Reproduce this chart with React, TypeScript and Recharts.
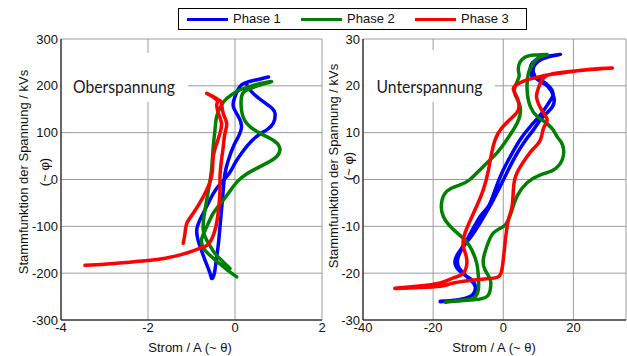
import React from 'react';
import { LineChart, Line, XAxis, YAxis, CartesianGrid } from 'recharts';

type P = [number, number];

const seriesNames = ['Phase 1', 'Phase 2', 'Phase 3'];
const seriesColors = ['#0000ff', '#008000', '#ff0000'];

const osXTicks = [-4, -2, 0, 2];
const osYTicks = [-300, -200, -100, 0, 100, 200, 300];
const usXTicks = [-40, -20, 0, 20];
const usYTicks = [-30, -20, -10, 0, 10, 20, 30];

const osPhase1: P[] = [
  [0.77, 219], [0.45, 212], [0.15, 202], [0.0, 177], [-0.04, 156], [0.08, 134], [0.15, 113], [0.08, 92],
  [-0.04, 70], [-0.15, 42], [-0.23, 13], [-0.27, -22], [-0.31, -65], [-0.345, -101], [-0.38, -136],
  [-0.42, -165], [-0.46, -193], [-0.5, -208], [-0.54, -211], [-0.575, -200], [-0.69, -172], [-0.8, -144],
  [-0.88, -108], [-0.73, -72], [-0.5, -30], [-0.3, -5], [-0.12, 15], [0.0, 35], [0.15, 56], [0.3, 74],
  [0.5, 92], [0.73, 106], [0.88, 120], [0.92, 141], [0.8, 156], [0.5, 177], [0.345, 191], [0.28, 201],
];

const osPhase2: P[] = [
  [-0.115, -190], [-0.27, -176], [-0.46, -158], [-0.61, -136], [-0.73, -108], [-0.69, -65], [-0.61, -22],
  [-0.54, 20], [-0.5, 70], [-0.46, 106], [-0.42, 135], [-0.31, 159], [-0.19, 173], [0.04, 188], [0.42, 201],
  [0.84, 209], [0.55, 201], [0.25, 190], [0.15, 177], [0.15, 148], [0.27, 120], [0.57, 99], [0.88, 84],
  [1.03, 67], [0.96, 49], [0.73, 35], [0.42, 20], [0.15, 4], [-0.04, -15], [-0.27, -44], [-0.5, -72],
  [-0.65, -101], [-0.77, -129], [-0.69, -151], [-0.5, -168], [-0.27, -186], [-0.08, -200], [0.04, -208],
];

const osPhase3: P[] = [
  [-3.45, -183], [-3.0, -181], [-2.5, -177], [-2.0, -173], [-1.6, -168], [-1.26, -161], [-0.95, -152],
  [-0.75, -145], [-0.6, -137], [-0.46, -108], [-0.38, -65], [-0.345, -22], [-0.345, 6], [-0.31, 42],
  [-0.27, 70], [-0.23, 99], [-0.19, 120], [-0.27, 141], [-0.31, 163], [-0.345, 168], [-0.5, 177],
  [-0.65, 184], [-0.5, 176], [-0.4, 166], [-0.42, 160], [-0.38, 141], [-0.31, 120], [-0.345, 99],
  [-0.42, 77], [-0.5, 49], [-0.54, 6], [-0.73, -37], [-0.96, -72], [-1.11, -94], [-1.15, -115], [-1.19, -136],
];

const usPhase1: P[] = [
  [-18, -26], [-13.3, -25.7], [-9.5, -25], [-8, -23.5], [-8.5, -21.8], [-10.4, -20.7], [-12.8, -19.3],
  [-13.8, -17.5], [-12.8, -15.7], [-10.4, -12.9], [-6.6, -7.9], [-4.2, -5.7], [-2.3, -2.2], [-0.4, 1.4],
  [2, 4.9], [4.8, 8.5], [7.7, 11.3], [11, 14.2], [12.9, 16.3], [14.2, 18], [13.4, 19.6], [10.6, 21.3],
  [8.3, 22], [7.7, 23.5], [8.4, 25], [10.6, 26], [13, 26.4], [16.3, 26.7], [13, 26.2], [10.8, 25.6],
  [9, 24.5], [8.6, 22.8], [10, 21.2], [12.5, 20], [14.4, 17.6], [13.9, 15.4], [11, 13.1], [8.6, 10.6],
  [5.8, 7.8], [2.9, 4.2], [1, 1.4], [-0.9, -1.5], [-3.3, -5], [-6, -8.5], [-9, -12], [-11.5, -14.5],
  [-13, -17], [-12.5, -19], [-10, -21], [-8.2, -22.5], [-8.3, -24.3], [-11, -25.4], [-15, -25.9], [-18, -26.1],
];

const usPhase2: P[] = [
  [-16.5, -26.2], [-14.2, -26], [-8.5, -25.7], [-4.7, -25], [-3.7, -23.5], [-3.7, -21.4], [-5.2, -19.3],
  [-5.7, -17.1], [-4.7, -14.3], [-2.8, -11.4], [0.1, -10], [1.5, -8.5], [2.5, -6.5], [3.9, -3.6],
  [6.8, -0.7], [10.6, 1], [14.4, 2.1], [16.8, 4.2], [17.2, 6.4], [16.5, 8], [15.3, 9.2], [14, 10.8],
  [11.5, 12.5], [9.6, 13.5], [7.7, 15.6], [6.8, 19.2], [7.2, 22.8], [8.6, 24.9], [10.5, 26.2], [12.5, 26.7],
  [9.5, 26.6], [7.7, 26.5], [5.3, 25.6], [4.3, 23.5], [4.5, 22], [3.4, 19.9], [3.4, 18.1], [4.8, 15.6],
  [4.5, 13], [3.2, 11], [1, 8.5], [-1.8, 5.7], [-5.7, 2.8], [-9.5, 0], [-12.5, -1.2], [-16.1, -2.5],
  [-17.6, -5], [-17.1, -7.9], [-14.2, -10.7], [-10.9, -12.9], [-9, -15], [-7.6, -17.8], [-7.1, -20.7],
  [-7.1, -23.5], [-8.5, -25.3], [-12, -25.8], [-16.5, -26.2],
];

const usPhase3: P[] = [
  [-30.9, -23.2], [-24.7, -22.8], [-18, -22.1], [-14.2, -21], [-11.4, -20], [-10.4, -17.1], [-11.4, -14.3],
  [-10.9, -11.4], [-8.5, -7.2], [-5.7, -2.2], [-4.2, 2.1], [-3.3, 5.7], [-2.3, 8.5], [-0.4, 11], [2.9, 13.5],
  [4.3, 14.9], [4.2, 17], [2.9, 19.2], [3.9, 20.3], [6.5, 21.2], [9.6, 21.8], [13.4, 22.4], [20.1, 23.1],
  [26, 23.6], [31.1, 23.8], [25, 23.5], [17, 22.9], [12.5, 22.2], [10.6, 20.6], [9.6, 18.5], [9.6, 17.1],
  [10.8, 15], [12.5, 12.8], [11.5, 11], [10.6, 8.5], [8.5, 6.5], [6.8, 4.9], [3.9, 1.4], [2.9, -2],
  [2.5, -5.8], [1.5, -8.5], [0.5, -13.6], [-0.4, -19.3], [-2.3, -21], [-7.6, -21.4], [-14.2, -22.1],
  [-18, -22.8], [-24.7, -23.1], [-30.9, -23.3],
];

const yTitle = 'Stammfunktion der Spannung / kVs';
const yTitle2 = '(~ \u03c6)';
const xTitle = 'Strom / A (~ \u03b8)';
const osLabel = 'Oberspannung';
const usLabel = 'Unterspannung';

const FONT = '"Liberation Sans", Arial, sans-serif';
const toPts = (arr: P[]) => arr.map(([x, y]) => ({ x, y }));

const tickStyle = { fill: '#111', fontSize: 13, fontFamily: FONT };

function Panel(props: any) {
  const { width, height, margin, yAxisWidth, xDomain, yDomain, xTicks, yTicks, series } = props;
  const blank = () => '';
  const common = { type: 'number' as const, allowDataOverflow: true, interval: 0 as const };
  return (
    <LineChart width={width} height={height} margin={margin}>
      <CartesianGrid stroke="#9c9c9c" strokeWidth={1} fill="none" />
      <XAxis {...common} dataKey="x" domain={xDomain} ticks={xTicks} height={36} tickLine={false}
        tickSize={0} tickMargin={3} axisLine={{ stroke: '#000' }} tick={tickStyle} />
      <XAxis {...common} xAxisId="top" orientation="top" mirror dataKey="x" domain={xDomain} ticks={xTicks}
        height={0} tickSize={4} tickLine={{ stroke: '#000' }} axisLine={{ stroke: '#000' }} tickFormatter={blank} />
      <XAxis {...common} xAxisId="bm" orientation="bottom" mirror dataKey="x" domain={xDomain} ticks={xTicks}
        height={0} tickSize={4} tickLine={{ stroke: '#000' }} axisLine={false} tickFormatter={blank} />
      <YAxis {...common} domain={yDomain} ticks={yTicks} width={yAxisWidth} tickLine={false} tickSize={0}
        tickMargin={3} axisLine={{ stroke: '#000' }} tick={tickStyle} />
      <YAxis {...common} yAxisId="right" orientation="right" mirror domain={yDomain} ticks={yTicks} width={0}
        tickSize={4} tickLine={{ stroke: '#000' }} axisLine={{ stroke: '#000' }} tickFormatter={blank} />
      <YAxis {...common} yAxisId="lm" orientation="left" mirror domain={yDomain} ticks={yTicks} width={0}
        tickSize={4} tickLine={{ stroke: '#000' }} axisLine={false} tickFormatter={blank} />
      {series.map((s: P[], i: number) => (
        <Line key={i} data={toPts(s)} dataKey="y" name={seriesNames[i]} type="natural" stroke={seriesColors[i]}
          strokeWidth={3.5} strokeLinejoin="round" strokeLinecap="round" dot={false} activeDot={false}
          isAnimationActive={false} />
      ))}
    </LineChart>
  );
}

function RotText({ x, y, text }: { x: number; y: number; text: string }) {
  return (
    <div style={{ position: 'absolute', left: x, top: y, transform: 'translate(-50%, -50%) rotate(-90deg)',
      whiteSpace: 'nowrap', fontSize: 13, fontFamily: FONT, color: '#111', lineHeight: '15px' }}>{text}</div>
  );
}

function HText({ x, y, text }: { x: number; y: number; text: string }) {
  return (
    <div style={{ position: 'absolute', left: x, top: y, transform: 'translate(-50%, -50%)',
      whiteSpace: 'nowrap', fontSize: 13, fontFamily: FONT, color: '#111', lineHeight: '15px' }}>{text}</div>
  );
}

function Note({ left, top, w, h, tx, ty, len, text }: any) {
  return (
    <div style={{ position: 'absolute', left, top, width: w, height: h, background: '#fff' }}>
      <svg width={w} height={h} style={{ display: 'block' }}>
        <text x={tx} y={ty} fontFamily="Lato, 'Open Sans', sans-serif" fontSize={17} fill="#1a1a1a"
          textLength={len} lengthAdjust="spacingAndGlyphs">{text}</text>
      </svg>
    </div>
  );
}

export default function App() {
  return (
    <div style={{ position: 'absolute', left: 0, top: 0, width: 627, height: 356, background: '#fff', overflow: 'hidden' }}>
      <div style={{ position: 'absolute', left: 0, top: 0 }}>
        <Panel width={330} height={356} margin={{ top: 39, right: 8, bottom: 0, left: 0 }} yAxisWidth={61}
          xDomain={[-4, 2]} yDomain={[-300, 300]} xTicks={osXTicks} yTicks={osYTicks}
          series={[osPhase1, osPhase2, osPhase3]} />
      </div>
      <div style={{ position: 'absolute', left: 300, top: 0 }}>
        <Panel width={327} height={356} margin={{ top: 39, right: 1, bottom: 0, left: 0 }} yAxisWidth={63}
          xDomain={[-40, 35]} yDomain={[-30, 30]} xTicks={usXTicks} yTicks={usYTicks}
          series={[usPhase1, usPhase2, usPhase3]} />
      </div>

      <Note left={62} top={53} w={126} h={49} tx={11} ty={39.5} len={102} text={osLabel} />
      <Note left={364} top={50} w={131} h={52} tx={12.5} ty={42.5} len={106} text={usLabel} />

      <RotText x={23} y={172} text={yTitle} />
      <RotText x={44} y={172} text={yTitle2} />
      <RotText x={333} y={166} text={yTitle} />
      <RotText x={348} y={166} text={yTitle2} />
      <HText x={190} y={347} text={xTitle} />
      <HText x={494} y={347} text={xTitle} />

      <div style={{ position: 'absolute', left: 178, top: 8, width: 347, height: 20, border: '1px solid #000',
        background: '#fff', fontFamily: FONT, fontSize: 13, color: '#111' }}>
        {seriesNames.map((n, i) => (
          <React.Fragment key={n}>
            <div style={{ position: 'absolute', left: 8 + i * 114, top: 9, width: 41, height: 3, background: seriesColors[i] }} />
            <div style={{ position: 'absolute', left: 54 + i * 114, top: 2, lineHeight: '15px', whiteSpace: 'nowrap' }}>{n}</div>
          </React.Fragment>
        ))}
      </div>
    </div>
  );
}
